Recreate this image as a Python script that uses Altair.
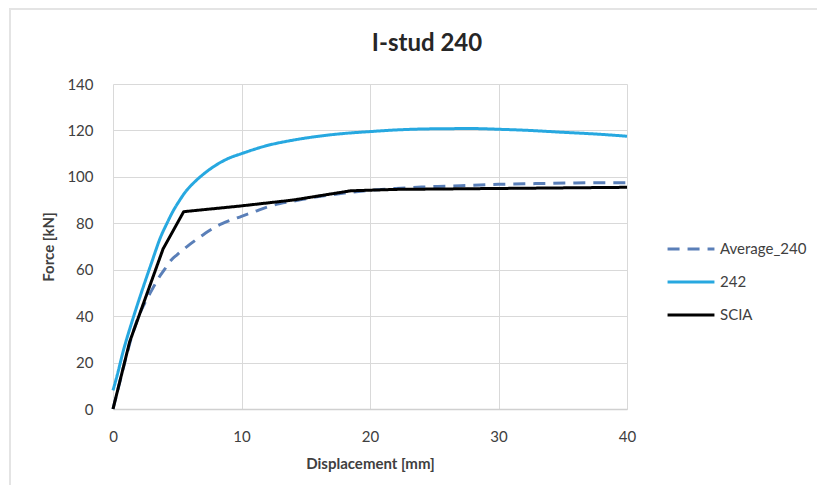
import altair as alt
import pandas as pd

# ---- data ----
avg_x = [0, 0.5, 1.0, 1.5, 2.0, 2.5, 3.0, 3.5, 4.0, 4.5, 5.0, 6.0, 7.0, 8.0, 9.0, 10, 11, 12, 13, 14,
         16, 18, 20, 22, 24, 26, 28, 30, 32, 34, 36, 38, 40]
avg_y = [0, 11, 22, 32, 40, 46, 51, 56, 60, 64, 66.5, 71, 75, 78.5, 81, 83, 85, 87, 88.5, 89.5,
         91.5, 93, 94.2, 95, 95.6, 96, 96.4, 96.8, 97, 97.2, 97.4, 97.5, 97.5]

s242_x = [0, 0.3, 0.8, 1.5, 2.2, 3.0, 3.7, 4.2, 4.7, 5.2, 5.7, 6.2, 7.0, 8.0, 9.0, 10, 12, 14, 16, 18,
          20, 22, 25, 28, 30, 32, 35, 38, 40]
s242_y = [8, 14, 25, 38, 50, 63, 74, 80, 85.5, 90, 94, 97, 101, 105, 108, 110, 113.5, 115.8, 117.5, 118.7,
          119.5, 120.2, 120.7, 120.8, 120.5, 120.1, 119.2, 118.3, 117.5]

scia_x = [0, 1.3, 3.9, 5.5, 10, 14, 18.5, 22, 40]
scia_y = [0, 29, 69, 85, 87.5, 90, 94, 94.6, 95.5]

series_names = ["Average_240", "242", "SCIA"]
series_colors = ["#5a7fb8", "#27a8e0", "#000000"]

rows = []
for name, xs, ys in [("Average_240", avg_x, avg_y), ("242", s242_x, s242_y), ("SCIA", scia_x, scia_y)]:
    for i, (xv, yv) in enumerate(zip(xs, ys)):
        rows.append({"series": name, "x": xv, "y": yv, "order": i})
df = pd.DataFrame(rows)

FONT = "Lato"
TXT = "#404040"

legend = alt.Legend(
    title=None, orient="none", legendX=553, legendY=140,
    symbolType="stroke", symbolSize=2200, symbolStrokeWidth=3,
    labelFont=FONT, labelFontSize=15, labelColor=TXT, labelOffset=4,
    rowPadding=-21, padding=0,
)

enc = dict(
    x=alt.X("x:Q", scale=alt.Scale(domain=[0, 40], nice=False),
            axis=alt.Axis(values=[0, 10, 20, 30, 40], title="Displacement [mm]",
                          labelFontSize=15, labelPadding=20, titlePadding=12, labelFlush=False,
                          titleFontSize=15, titleFontWeight="bold",
                          domain=True, domainColor="#d0d0d0", domainWidth=1.5)),
    y=alt.Y("y:Q", scale=alt.Scale(domain=[0, 140], nice=False),
            axis=alt.Axis(values=[0, 20, 40, 60, 80, 100, 120, 140], title="Force [kN]",
                          labelFontSize=15, labelPadding=20, titlePadding=10,
                          titleFontSize=15, titleFontWeight="bold", domain=False)),
    color=alt.Color("series:N", scale=alt.Scale(domain=series_names, range=series_colors), legend=legend),
    strokeDash=alt.StrokeDash("series:N", scale=alt.Scale(domain=series_names, range=[[12, 8], [1, 0], [1, 0]]), legend=legend),
    strokeWidth=alt.StrokeWidth("series:N", scale=alt.Scale(domain=series_names, range=[3, 3, 4]), legend=legend),
    order="order:Q",
    detail="series:N",
)

base = alt.Chart(df)
smooth = base.transform_filter(alt.datum.series != "SCIA").mark_line(
    interpolate="monotone", strokeCap="butt", strokeJoin="round").encode(**enc)
linear = base.transform_filter(alt.datum.series == "SCIA").mark_line(
    strokeCap="butt", strokeJoin="round").encode(**enc)

# light chart-area frame (decoration, like the spreadsheet chart border)
frame = alt.Chart(pd.DataFrame({"k": [0]})).mark_rect(
    filled=False, stroke="#e4e4e4", strokeWidth=2
).encode(x=alt.value(-103), x2=alt.value(720), y=alt.value(-75), y2=alt.value(407))

chart = alt.layer(frame, smooth, linear).properties(
    width=514, height=325,
    title=alt.TitleParams("I-stud 240", font=FONT, fontSize=24, fontWeight="bold", color="#262626",
                          anchor="middle", dx=57, offset=-48),
    autosize=alt.AutoSizeParams(type="none"),
    padding={"left": 105, "top": 76, "right": 190, "bottom": 76},
).configure_axis(
    labelFont=FONT, titleFont=FONT, labelColor=TXT, titleColor=TXT,
    gridColor="#d9d9d9", gridWidth=1, ticks=False,
).configure_view(stroke=None)

chart.save("out.html", embed_options={"renderer": "svg", "actions": False})
